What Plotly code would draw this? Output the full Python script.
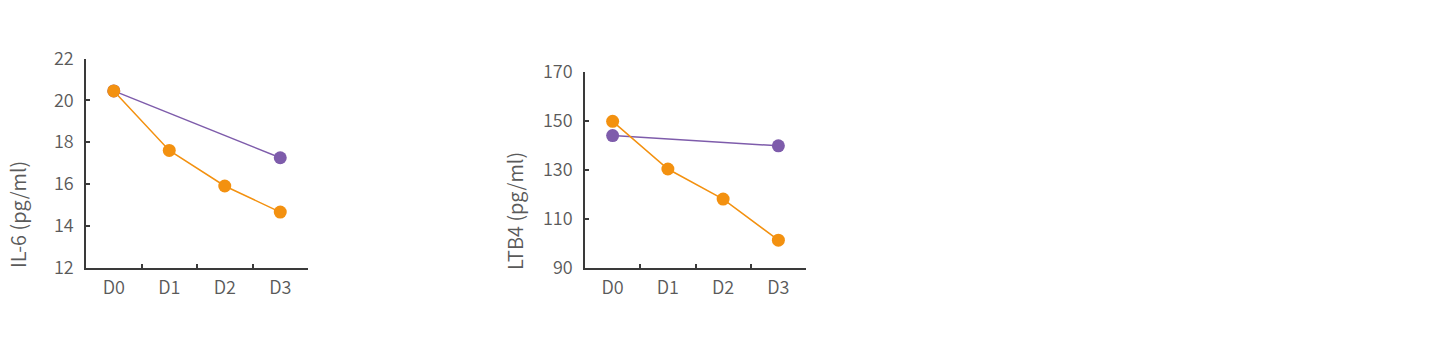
import plotly.graph_objects as go

days = ["D0", "D1", "D2", "D3"]
il6_orange = [20.45, 17.6, 15.9, 14.65]
il6_purple_days = ["D0", "D3"]
il6_purple = [20.45, 17.25]
ltb4_orange = [149.8, 130.3, 118.0, 101.2]
ltb4_purple_days = ["D0", "D3"]
ltb4_purple = [144.0, 139.8]

ORANGE = "#F39110"
PURPLE = "#7E5CAB"
AXIS = "#3a3a3a"
TEXT = "#5a5a5a"
FONT = "Noto Sans CJK SC"

fig = go.Figure()

def add(xs, ys, color, xa, ya):
    fig.add_trace(go.Scatter(x=xs, y=ys, mode="lines+markers",
                             line=dict(color=color, width=1.5),
                             marker=dict(size=13, color=color),
                             xaxis=xa, yaxis=ya, showlegend=False, hoverinfo="skip"))

add(il6_purple_days, il6_purple, PURPLE, "x", "y")
add(days, il6_orange, ORANGE, "x", "y")
add(ltb4_purple_days, ltb4_purple, PURPLE, "x2", "y2")
add(days, ltb4_orange, ORANGE, "x2", "y2")

W, H = 1440, 351

def xd(a, b):
    return [a / W, b / W]

def yd(top, bottom):
    return [(H - bottom) / H, (H - top) / H]

tickfont = dict(family=FONT, size=18, color=TEXT, weight=350)

xcommon = dict(type="category", categoryorder="array", categoryarray=days,
               range=[-0.5, 3.5], showline=True, linecolor=AXIS, linewidth=1.5,
               ticks="inside", ticklen=4, tickcolor=AXIS, tickwidth=1.5,
               tickson="boundaries", showgrid=False, zeroline=False,
               ticklabelstandoff=3, automargin=False,
               tickfont=tickfont, fixedrange=True)
ycommon = dict(showline=True, linecolor=AXIS, linewidth=1.5, ticks="inside",
               ticklen=4, tickcolor=AXIS, tickwidth=1.5, showgrid=False, zeroline=False,
               ticklabelstandoff=7, automargin=False,
               tickfont=tickfont, fixedrange=True)

fig.update_layout(
    width=W, height=H, autosize=False, margin=dict(l=0, r=0, t=0, b=0, pad=0),
    paper_bgcolor="white", plot_bgcolor="white",
    xaxis=dict(domain=xd(86, 308), anchor="y", **xcommon),
    yaxis=dict(domain=yd(58.5, 267.5), anchor="x", range=[12, 22], tickvals=[12, 14, 16, 18, 20, 22], **ycommon),
    xaxis2=dict(domain=xd(585, 806), anchor="y2", **xcommon),
    yaxis2=dict(domain=yd(72, 267.5), anchor="x2", range=[90, 170], tickvals=[90, 110, 130, 150, 170], **ycommon),
    annotations=[
        dict(text="IL-6 (pg/ml)", x=17 / W, y=(H - 215) / H, xref="paper", yref="paper",
             textangle=-90, showarrow=False, xanchor="center", yanchor="middle",
             font=dict(family=FONT, size=20, color=TEXT, weight=350)),
        dict(text="LTB4 (pg/ml)", x=515 / W, y=(H - 211) / H, xref="paper", yref="paper",
             textangle=-90, showarrow=False, xanchor="center", yanchor="middle",
             font=dict(family=FONT, size=20, color=TEXT, weight=350)),
    ],
)

fig.write_html("out.html")
